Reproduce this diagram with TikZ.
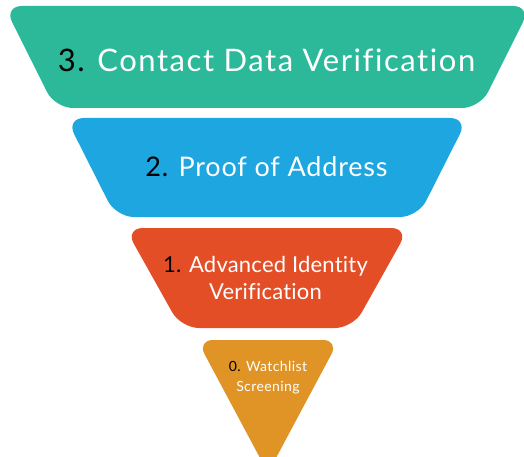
\documentclass[tikz,border=0pt]{standalone}
\usepackage{fontspec}
\setmainfont[Ligatures=NoCommon]{Lato}
\definecolor{cgreen}{RGB}{43,185,153}
\definecolor{cblue}{RGB}{29,166,223}
\definecolor{cred}{RGB}{228,78,38}
\definecolor{corange}{RGB}{224,148,38}
\tikzset{
  tier/.style={rounded corners=18pt},
  lbl/.style={text=white, inner sep=0pt, text depth=0pt, anchor=south, align=center},
}
\begin{document}
\begin{tikzpicture}[x=1pt,y=-1pt]
\useasboundingbox (0,0) rectangle (524,457);
\fill[cgreen, tier] (267,6) -- (531,6) -- (480,108) -- (55,108) -- (4,6) -- cycle;
\fill[cblue, tier] (267,118) -- (468,118) -- (418,217) -- (116,217) -- (66,118) -- cycle;
\fill[cred, tier] (267,228) -- (409,228) -- (353,328) -- (181,328) -- (125,228) -- cycle;
\fill[corange, rounded corners=16pt] (268,340) -- (339,340) -- (268,473) -- (197,340) -- cycle;
\node[lbl, font=\addfontfeatures{LetterSpace=5}\fontsize{31}{36}\selectfont] (t3) at (266.5,72) {\textcolor{black}{3.} Contact Data Verification};
\node[lbl, font=\addfontfeatures{LetterSpace=3}\fontsize{27}{32}\selectfont] (t2) at (266.5,177) {\textcolor{black}{2.} Proof of Address};
\node[lbl, font=\addfontfeatures{LetterSpace=1}\fontsize{22}{27}\selectfont] (t1) at (265.5,300) {\textcolor{black}{1.} Advanced Identity\\Verification};
\node[lbl, font=\addfontfeatures{LetterSpace=3}\fontsize{14}{20}\selectfont] (t0) at (268,392) {\textcolor{black}{0.} Watchlist\\Screening};
\end{tikzpicture}
\end{document}
